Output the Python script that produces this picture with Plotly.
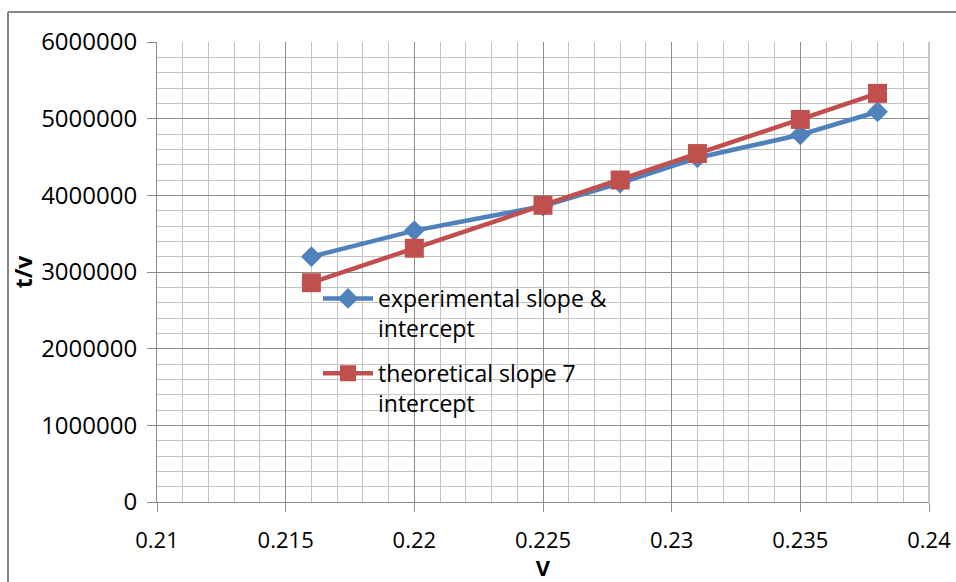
import plotly.graph_objects as go

v = [0.216, 0.22, 0.225, 0.228, 0.231, 0.235, 0.238]
exp_vals = [3200000, 3540000, 3860000, 4160000, 4490000, 4790000, 5090000]
theo_vals = [2860000, 3310000, 3870000, 4200000, 4545000, 4990000, 5330000]
names = ["experimental slope &<br>intercept", "theoretical slope 7<br>intercept"]
x_ticks = [0.21, 0.215, 0.22, 0.225, 0.23, 0.235, 0.24]
x_labels = ["0.21", "0.215", "0.22", "0.225", "0.23", "0.235", "0.24"]
y_ticks = [0, 1000000, 2000000, 3000000, 4000000, 5000000, 6000000]
y_labels = ["0", "1000000", "2000000", "3000000", "4000000", "5000000", "6000000"]
x_minor = [round(0.21 + 0.001 * i, 3) for i in range(31)]
y_minor = [200000 * i for i in range(31)]

FONT = "Open Sans"
fig = go.Figure()
fig.add_trace(go.Scatter(x=v, y=exp_vals, name=names[0], mode="lines+markers", legendgroup="a",
                         line=dict(color="#4F81BD", width=4.5),
                         marker=dict(symbol="diamond", size=16, color="#4F81BD")))
fig.add_trace(go.Scatter(x=v, y=theo_vals, name=names[1], mode="lines+markers", legendgroup="b",
                         line=dict(color="#C0504D", width=4.5),
                         marker=dict(symbol="square", size=19, color="#C0504D")))

L, R, T, B = 157, 27, 42, 80
W, H = 956, 582
pw, ph = W - L - R, H - T - B

fig.update_layout(
    width=W, height=H,
    margin=dict(l=L, r=R, t=T, b=B, pad=0, autoexpand=False),
    paper_bgcolor="white", plot_bgcolor="white",
    font=dict(family=FONT, size=22, color="#000000"),
    showlegend=True,
    legend=dict(x=(318 - L) / pw, y=(H - B - 277) / ph, xanchor="left", yanchor="top",
                bgcolor="rgba(0,0,0,0)", font=dict(family=FONT, size=23, color="#000"),
                valign="top", traceorder="grouped", tracegroupgap=12, itemwidth=50),
    xaxis=dict(range=[0.21, 0.24], tickmode="array", tickvals=x_ticks, ticktext=x_labels, automargin=False,
               showgrid=True, gridcolor="#8c8c8c", gridwidth=1,
               minor=dict(tickmode="array", tickvals=x_minor, showgrid=True, gridcolor="#c4c4c4", gridwidth=1),
               ticks="outside", ticklen=9, tickcolor="#8c8c8c",
               showline=True, linecolor="#8c8c8c", linewidth=1, zeroline=False,
               tickfont=dict(family=FONT, size=22), ticklabelstandoff=10,
               title=dict(text="<b>V</b>", font=dict(family=FONT, size=22), standoff=9)),
    yaxis=dict(range=[0, 6000000], tickmode="array", tickvals=y_ticks, ticktext=y_labels, automargin=False,
               showgrid=True, gridcolor="#8c8c8c", gridwidth=1,
               minor=dict(tickmode="array", tickvals=y_minor, showgrid=True, gridcolor="#c4c4c4", gridwidth=1),
               ticks="outside", ticklen=9, tickcolor="#8c8c8c",
               showline=True, linecolor="#8c8c8c", linewidth=1, zeroline=False,
               tickfont=dict(family=FONT, size=24), ticklabelstandoff=5,
               title=dict(text="<b>t/v</b>", font=dict(family=FONT, size=23), standoff=2)),
)

# outer chart border (left and top edges visible)
fig.add_shape(type="line", xref="paper", yref="paper",
              x0=(8 - L) / pw, x1=(8 - L) / pw, y0=(H - 12 - B) / ph, y1=-B / ph - 0.1,
              line=dict(color="#868686", width=2))
fig.add_shape(type="line", xref="paper", yref="paper",
              x0=(8 - L) / pw, x1=1 + R / pw + 0.1, y0=(H - 12 - B) / ph, y1=(H - 12 - B) / ph,
              line=dict(color="#868686", width=2))
# right border of plot area
fig.add_shape(type="line", xref="paper", yref="paper", x0=1, x1=1, y0=0, y1=1,
              line=dict(color="#8c8c8c", width=1), layer="below")

fig.write_html("out.html")
